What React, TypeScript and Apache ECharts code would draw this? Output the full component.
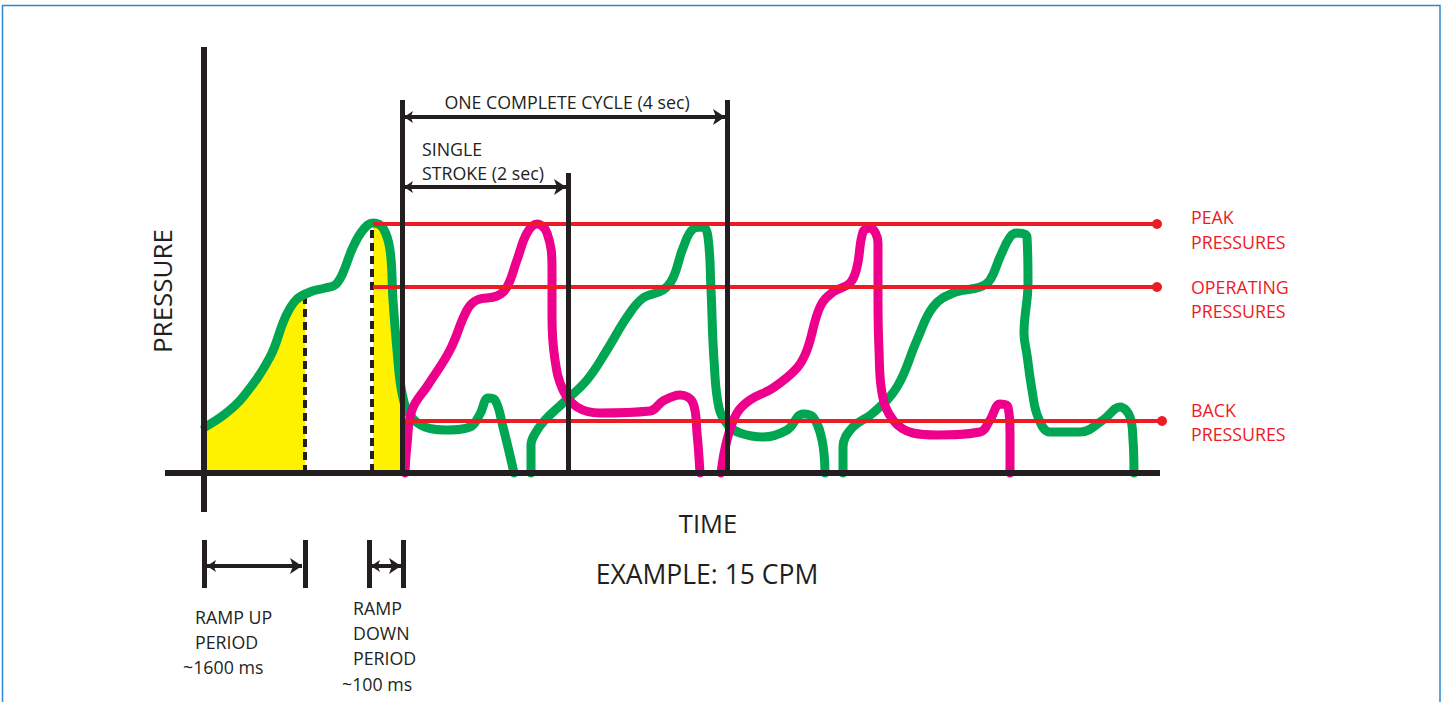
import React, { useEffect, useRef } from "react";
import * as echarts from "echarts";

// Time (x) and pressure (y) in schematic units; baseline pressure 0 at the time axis.
const greenStroke1 = [[1,46],[21,59],[39,76],[66,116],[81,155],[92,173],[106,181],[121,185],[131,188],[138,198],[149,226],[159,243],[169,250],[179,245],[186,223],[189,173],[193,123],[198,80],[206,58],[221,46],[243,43],[266,46],[276,59],[284,75],[291,73],[299,46],[310,0]];
const greenStroke2 = [[327,0],[327,28],[332,41],[341,53],[359,70],[383,93],[403,123],[423,156],[439,175],[459,183],[469,195],[479,225],[489,244],[499,246],[504,236],[507,183],[510,113],[515,65],[524,48],[536,40],[559,36],[583,43],[599,59],[609,56],[618,33],[621,0]];
const greenStroke3 = [[639,0],[639,26],[648,45],[669,60],[693,86],[713,133],[729,166],[749,180],[776,186],[786,193],[796,216],[806,236],[813,240],[823,236],[824,190],[820,140],[823,118],[828,83],[834,56],[846,41],[876,41],[899,53],[916,66],[926,56],[929,33],[930,0]];
const magentaStroke1 = [[201,0],[203,28],[208,63],[224,88],[246,123],[263,163],[273,173],[293,177],[303,186],[313,213],[323,240],[333,249],[343,240],[348,206],[348,156],[351,113],[359,83],[373,66],[396,60],[446,62],[459,72],[476,78],[489,70],[493,40],[496,0]];
const magentaStroke2 = [[517,0],[523,33],[533,60],[546,73],[569,85],[593,105],[603,123],[616,166],[629,181],[646,190],[653,206],[659,241],[666,245],[674,230],[674,173],[675,123],[678,80],[689,53],[709,40],[733,38],[776,41],[786,53],[796,69],[804,66],[806,40],[806,0]];
const rampUpArea = [[2,45],[21,59],[39,76],[66,116],[81,155],[92,173],[101,178]];
const rampDownArea = [[169,250],[179,245],[186,223],[189,173],[193,123],[198,80]];

const peakPressure = 249;
const operatingPressure = 186;
const backPressure = 52;
const pressureLineStart = [169, 169, 202];
const pressureLineEnd = [953, 953, 958];

const cycleStart = 198;
const strokeEnd = 364;
const cycleEnd = 523;
const rampUpEnd = 101;
const rampDownStart = 168;

const BLACK = "#231f20";
const RED = "#ed1c24";
const GREEN = "#00a651";
const MAGENTA = "#ec008c";
const YELLOW = "#fff200";
const FONT = "'Open Sans', 'Noto Sans', sans-serif";
const SMALL = 17.8;
const BIG = 26.5;

function curve(data: number[][], color: string) {
  return {
    type: "line",
    data,
    smooth: 0.4,
    showSymbol: false,
    symbol: "none",
    z: 4,
    lineStyle: { color, width: 9, cap: "round", join: "round" },
  };
}

function area(data: number[][]) {
  return {
    type: "line",
    data,
    smooth: 0.4,
    showSymbol: false,
    symbol: "none",
    z: 2,
    lineStyle: { width: 0, opacity: 0 },
    areaStyle: { color: YELLOW, opacity: 1 },
  };
}

function pressureLine(y: number, x1: number, x2: number) {
  return {
    type: "line",
    z: 5,
    symbol: "circle",
    symbolSize: 10,
    lineStyle: { color: RED, width: 4 },
    itemStyle: { color: RED },
    data: [
      { value: [x1, y], symbol: "none" },
      { value: [x2, y], symbol: "circle", symbolSize: 10 },
    ],
  };
}

function segs(coords: number[][][], width: number, z: number, extra: any = {}) {
  return {
    type: "lines",
    coordinateSystem: "cartesian2d",
    z,
    symbol: ["none", "none"],
    lineStyle: { color: BLACK, width, opacity: 1, ...(extra.lineStyle || {}) },
    data: coords.map((c) => ({ coords: c })),
    ...(extra.symbol ? { symbol: extra.symbol, symbolSize: extra.symbolSize } : {}),
  };
}

function txt(text: string, x: number, y: number, size: number, color: string, align = "left", rotation = 0) {
  return {
    type: "text",
    x,
    y,
    rotation,
    z: 10,
    style: {
      text,
      fill: color,
      font: `${size}px ${FONT}`,
      textAlign: align,
      textVerticalAlign: "middle",
    },
  };
}

export default function App() {
  const ref = useRef<HTMLDivElement>(null);
  useEffect(() => {
    document.body.style.margin = "0";
    document.body.style.overflow = "hidden";
    const chart = echarts.init(ref.current!, null, { renderer: "svg" });
    const option: any = {
      animation: false,
      backgroundColor: "#ffffff",
      grid: { left: 0, right: 0, top: 0, bottom: 0 },
      xAxis: { type: "value", min: -204, max: 1244, show: false },
      yAxis: { type: "value", min: -229, max: 473, show: false },
      series: [
        area(rampUpArea),
        area(rampDownArea),
        segs(
          [
            [[rampUpEnd, 177], [rampUpEnd, 0]],
            [[rampDownStart, 243], [rampDownStart, 0]],
          ],
          4,
          3,
          { lineStyle: { type: [8, 5] } }
        ),
        curve(greenStroke1, GREEN),
        curve(greenStroke2, GREEN),
        curve(greenStroke3, GREEN),
        curve(magentaStroke1, MAGENTA),
        curve(magentaStroke2, MAGENTA),
        pressureLine(peakPressure, pressureLineStart[0], pressureLineEnd[0]),
        pressureLine(operatingPressure, pressureLineStart[1], pressureLineEnd[1]),
        pressureLine(backPressure, pressureLineStart[2], pressureLineEnd[2]),
        // cycle markers
        segs(
          [
            [[cycleStart, 0], [cycleStart, 373]],
            [[cycleEnd, 0], [cycleEnd, 373]],
            [[strokeEnd, 0], [strokeEnd, 300]],
            [[0, -67], [0, -115]],
            [[rampUpEnd, -67], [rampUpEnd, -115]],
            [[165, -67], [165, -115]],
            [[199, -67], [199, -115]],
          ],
          5,
          6
        ),
        segs(
          [
            [[cycleStart + 2, 356], [cycleEnd - 2, 356]],
            [[cycleStart + 2, 286], [strokeEnd - 2, 286]],
            [[3, -93], [rampUpEnd - 3, -93]],
            [[167, -93], [197, -93]],
          ],
          4,
          6,
          { symbol: ["arrow", "arrow"], symbolSize: [9, 12] }
        ),
        // axes
        segs(
          [
            [[0, -39], [0, 426]],
            [[-39, 0], [956, 0]],
          ],
          6,
          7
        ),
      ],
      graphic: [
        {
          type: "rect",
          silent: true,
          shape: { x: 2.5, y: 5.5, width: 1437.5, height: 720 },
          style: { fill: "none", stroke: "#2f86d1", lineWidth: 1.5 },
          z: 0,
        },
        txt("ONE COMPLETE CYCLE (4 sec)", 567, 102, SMALL, BLACK, "center"),
        txt("SINGLE", 422, 149, SMALL, BLACK),
        txt("STROKE (2 sec)", 422, 173, SMALL, BLACK),
        txt("PEAK", 1191, 217, SMALL, RED),
        txt("PRESSURES", 1191, 242, SMALL, RED),
        txt("OPERATING", 1191, 287, SMALL, RED),
        txt("PRESSURES", 1191, 311, SMALL, RED),
        txt("BACK", 1191, 410, SMALL, RED),
        txt("PRESSURES", 1191, 434, SMALL, RED),
        txt("PRESSURE", 162, 291, 26, BLACK, "center", Math.PI / 2),
        txt("TIME", 708, 523, 25.5, BLACK, "center"),
        txt("EXAMPLE: 15 CPM", 707, 574, BIG, BLACK, "center"),
        txt("RAMP UP", 195, 617, SMALL, BLACK),
        txt("PERIOD", 195, 642, SMALL, BLACK),
        txt("~1600 ms", 183, 667, SMALL, BLACK),
        txt("RAMP", 353, 608, SMALL, BLACK),
        txt("DOWN", 353, 633, SMALL, BLACK),
        txt("PERIOD", 353, 658, SMALL, BLACK),
        txt("~100 ms", 342, 684, SMALL, BLACK),
      ],
    };
    chart.setOption(option);
    return () => chart.dispose();
  }, []);
  return <div ref={ref} style={{ width: 1448, height: 702 }} />;
}
